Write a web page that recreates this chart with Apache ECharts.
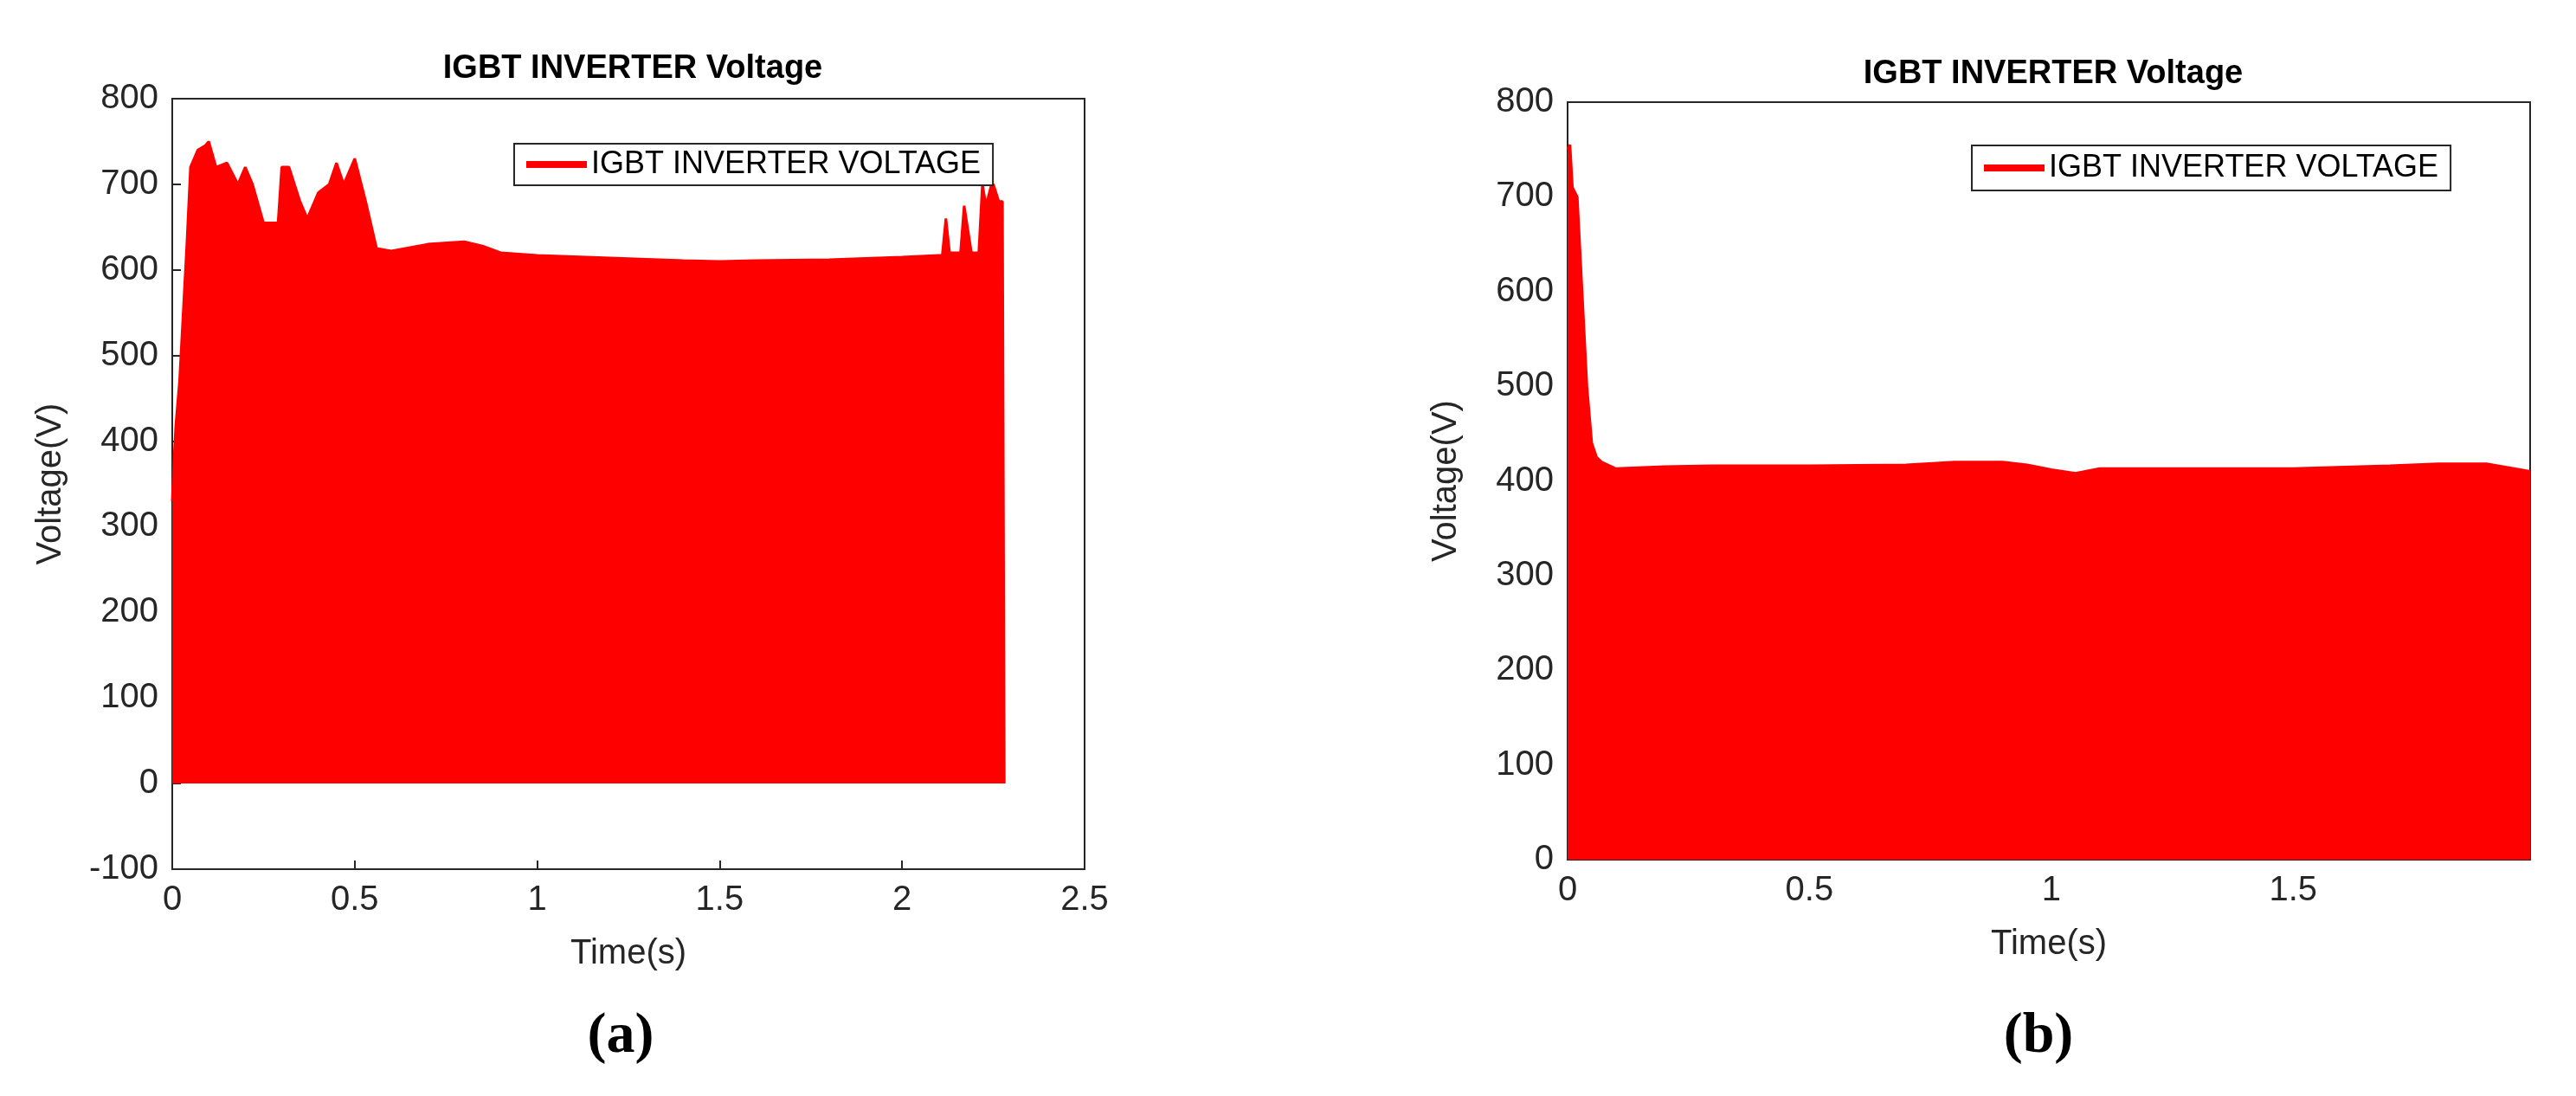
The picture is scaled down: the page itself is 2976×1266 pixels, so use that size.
<!DOCTYPE html>
<html><head><meta charset="utf-8">
<script src="https://cdn.jsdelivr.net/npm/echarts@6/dist/echarts.min.js"></script>
<style>html,body{margin:0;background:#fff}#c{width:2976px;height:1266px}</style>
</head><body><div id="c"></div>
<script>
const seriesName = 'IGBT INVERTER VOLTAGE';
const timeA = [0,0.005,0.01,0.02,0.03,0.04,0.05,0.07,0.09,0.1,0.12,0.15,0.18,0.2,0.22,0.25,0.29,0.3,0.32,0.35,0.37,0.4,0.43,0.45,0.47,0.5,0.53,0.56,0.6,0.7,0.8,0.85,0.9,1.0,1.2,1.4,1.5,1.6,1.8,2.0,2.1,2.11,2.12,2.13,2.16,2.17,2.19,2.21,2.22,2.23,2.245,2.25,2.265,2.275,2.28];
const voltA = [330,380,420,470,550,630,720,740,745,750,720,725,700,720,700,655,655,720,720,680,660,690,700,725,700,730,680,625,622,630,633,628,620,617,614,611,610,611,612,615,617,617,660,620,620,675,620,620,700,675,700,700,680,680,0];
const timeB = [0,0.005,0.01,0.02,0.03,0.04,0.05,0.06,0.07,0.1,0.2,0.3,0.5,0.7,0.8,0.9,0.95,1.0,1.05,1.1,1.3,1.5,1.7,1.8,1.9,1.99];
const voltB = [750,755,710,700,600,500,440,425,420,413,415,416,416,417,420,420,417,412,408,413,413,413,416,418,418,410];
const xTicksA = {min:0,max:2.5,interval:0.5};
const yTicksA = {min:-100,max:800,interval:100};
const xTicksB = {min:0,max:1.99,interval:0.5};
const yTicksB = {min:0,max:800,interval:100};

const font = 'Liberation Sans';
const red = '#ff0000';
function axisCommon(){
  return {axisLine:{show:true,onZero:false,lineStyle:{color:'#262626',width:2}},
    axisTick:{inside:true,length:10,lineStyle:{color:'#262626',width:2}},
    axisLabel:{color:'#262626',fontFamily:font,fontSize:40,margin:16},
    splitLine:{show:false},
    nameTextStyle:{color:'#262626',fontFamily:font,fontSize:40}};
}
const grids=[{left:199,top:114,width:1054,height:890,show:true,borderColor:'#262626',borderWidth:2},
             {left:1811,top:118,width:1112,height:875,show:true,borderColor:'#262626',borderWidth:2}];
const chart=echarts.init(document.getElementById('c'));
chart.setOption({
  animation:false,
  title:[
    {text:'IGBT INVERTER Voltage',left:726,top:56,textAlign:'center',textStyle:{fontFamily:font,fontWeight:'bold',fontSize:38,color:'#000'}},
    {text:'IGBT INVERTER Voltage',left:2367,top:62,textAlign:'center',textStyle:{fontFamily:font,fontWeight:'bold',fontSize:38,color:'#000'}},
    {text:'(a)',left:712,top:1160,textAlign:'center',textStyle:{fontFamily:'Liberation Serif',fontWeight:'bold',fontSize:66,color:'#000'}},
    {text:'(b)',left:2350,top:1160,textAlign:'center',textStyle:{fontFamily:'Liberation Serif',fontWeight:'bold',fontSize:66,color:'#000'}}
  ],
  legend:[
    {data:[seriesName],left:594,top:166,padding:[6,14,6,14],borderColor:'#262626',borderWidth:2,backgroundColor:'#fff',itemWidth:70,itemHeight:8,icon:'rect',textStyle:{fontFamily:font,fontSize:36,color:'#000'}},
    {data:[seriesName],left:2278,top:168,padding:[8,14,8,14],borderColor:'#262626',borderWidth:2,backgroundColor:'#fff',itemWidth:70,itemHeight:8,icon:'rect',textStyle:{fontFamily:font,fontSize:36,color:'#000'}}
  ],
  grid:grids,
  xAxis:[
    Object.assign(axisCommon(),{type:'value',gridIndex:0,...xTicksA,name:'Time(s)',nameLocation:'middle',nameGap:78}),
    Object.assign(axisCommon(),{type:'value',gridIndex:1,...xTicksB,name:'Time(s)',nameLocation:'middle',nameGap:78,axisLabel:Object.assign(axisCommon().axisLabel,{showMaxLabel:false})})
  ],
  yAxis:[
    Object.assign(axisCommon(),{type:'value',gridIndex:0,...yTicksA,name:'Voltage(V)',nameLocation:'middle',nameGap:120}),
    Object.assign(axisCommon(),{type:'value',gridIndex:1,...yTicksB,name:'Voltage(V)',nameLocation:'middle',nameGap:120})
  ],
  series:[
    {name:seriesName,type:'line',xAxisIndex:0,yAxisIndex:0,data:timeA.map((t,i)=>[t,voltA[i]]),showSymbol:false,lineStyle:{color:red,width:3},itemStyle:{color:red},areaStyle:{color:red,opacity:1,origin:0}},
    {name:seriesName,type:'line',xAxisIndex:1,yAxisIndex:1,data:timeB.map((t,i)=>[t,voltB[i]]),showSymbol:false,lineStyle:{color:red,width:3},itemStyle:{color:red},areaStyle:{color:red,opacity:1,origin:0}}
  ]
});
</script></body></html>
